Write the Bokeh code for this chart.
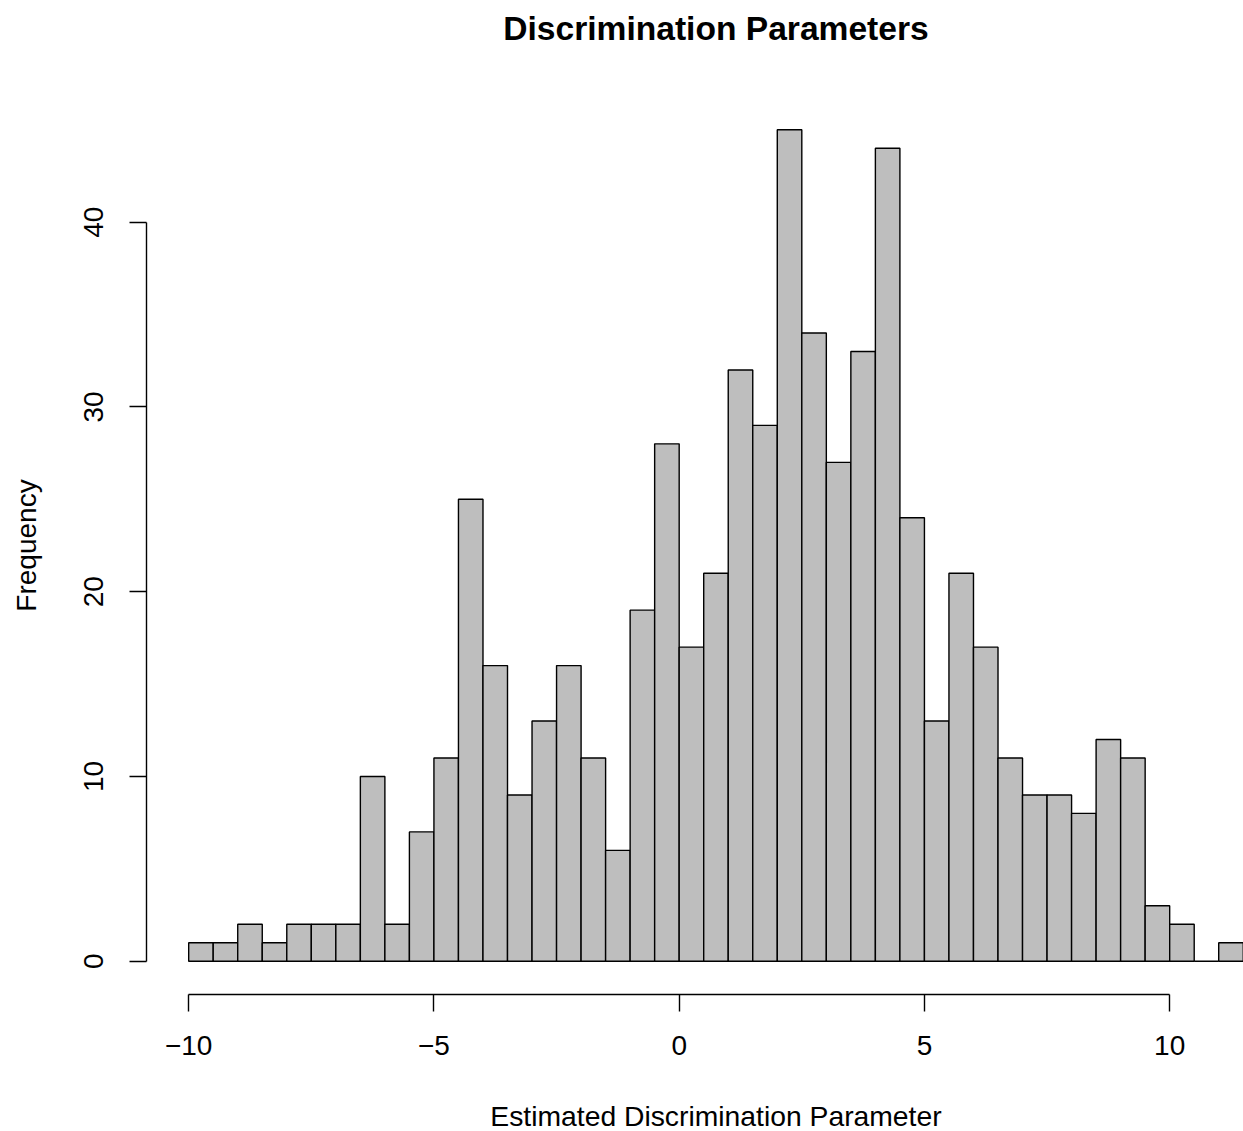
from bokeh.plotting import figure
from bokeh.models import Range1d, FixedTicker, ColumnDataSource
from bokeh.core.properties import value
from bokeh.layouts import column
from bokeh.embed import file_html
from bokeh.resources import INLINE

# Histogram bins (left edges, width 0.5) and counts
bin_left = [-10.0, -9.5, -9.0, -8.5, -8.0, -7.5, -7.0, -6.5, -6.0, -5.5,
            -5.0, -4.5, -4.0, -3.5, -3.0, -2.5, -2.0, -1.5, -1.0, -0.5,
            0.0, 0.5, 1.0, 1.5, 2.0, 2.5, 3.0, 3.5, 4.0, 4.5,
            5.0, 5.5, 6.0, 6.5, 7.0, 7.5, 8.0, 8.5, 9.0, 9.5,
            10.0, 10.5, 11.0]
bin_right = [-9.5, -9.0, -8.5, -8.0, -7.5, -7.0, -6.5, -6.0, -5.5, -5.0,
             -4.5, -4.0, -3.5, -3.0, -2.5, -2.0, -1.5, -1.0, -0.5, 0.0,
             0.5, 1.0, 1.5, 2.0, 2.5, 3.0, 3.5, 4.0, 4.5, 5.0,
             5.5, 6.0, 6.5, 7.0, 7.5, 8.0, 8.5, 9.0, 9.5, 10.0,
             10.5, 11.0, 11.5]
counts = [1, 1, 2, 1, 2, 2, 2, 10, 2, 7,
          11, 25, 16, 9, 13, 16, 11, 6, 19, 28,
          17, 21, 32, 29, 45, 34, 27, 33, 44, 24,
          13, 21, 17, 11, 9, 9, 8, 12, 11, 3,
          2, 0, 1]

x_ticks = [-10, -5, 0, 5, 10]
x_tick_labels = ["\u221210", "\u22125", "0", "5", "10"]
y_ticks = [0, 10, 20, 30, 40]

title_text = "Discrimination Parameters"
xlabel_text = "Estimated Discrimination Parameter"
ylabel_text = "Frequency"

FONT = "Liberation Sans"
W = 1243
LEFT = 146
TOP_H = 60
XLAB_H = 50
MAIN_H = 1131 - TOP_H - XLAB_H

# shared horizontal scale (R plot region extends beyond the right edge)
xr = Range1d(-10.86, 11.505)
text_x = (-10.86 + 12.36) / 2  # centre of the full R plot region

src = ColumnDataSource(dict(left=bin_left, right=bin_right, top=counts,
                            bottom=[0] * len(counts)))


def text_strip(height, txt, ypos, size, style):
    f = figure(width=W, height=height, output_backend="svg", toolbar_location=None,
               x_range=xr, y_range=Range1d(0, 1), x_axis_type=None, y_axis_type=None,
               min_border_left=LEFT, min_border_right=0, min_border_top=0,
               min_border_bottom=0)
    f.title = None
    f.outline_line_color = None
    f.grid.visible = False
    f.text(x=[text_x], y=[ypos], text=[txt], text_align="center",
           text_baseline="alphabetic", text_font=value(FONT),
           text_font_size=size, text_font_style=style, text_color="black")
    return f


p = figure(width=W, height=MAIN_H, output_backend="svg", toolbar_location=None,
           x_range=xr, y_range=Range1d(-1.8, 46.8),
           min_border_left=LEFT, min_border_right=0, min_border_top=96 - TOP_H,
           min_border_bottom=MAIN_H - (994 - TOP_H))
p.title = None
p.outline_line_color = None
p.grid.visible = False

p.quad(left="left", right="right", top="top", bottom="bottom", source=src,
       fill_color="#BEBEBE", line_color="black", line_width=1.4)

xa = p.xaxis[0]
xa.ticker = FixedTicker(ticks=x_ticks)
xa.major_label_overrides = {t: l for t, l in zip(x_ticks, x_tick_labels)}
xa.bounds = (-10, 10)
xa.minor_tick_line_color = None
xa.major_tick_in = 0
xa.major_tick_out = 17
xa.axis_line_width = 1.4
xa.major_tick_line_width = 1.4
xa.major_label_text_font = FONT
xa.major_label_text_font_size = "28px"
xa.major_label_text_color = "black"
xa.major_label_standoff = 24

ya = p.yaxis[0]
ya.ticker = FixedTicker(ticks=y_ticks)
ya.bounds = (0, 40)
ya.minor_tick_line_color = None
ya.major_tick_in = 0
ya.major_tick_out = 17
ya.axis_line_width = 1.4
ya.major_tick_line_width = 1.4
ya.major_label_text_font = FONT
ya.major_label_text_font_size = "28px"
ya.major_label_text_color = "black"
ya.major_label_orientation = "parallel"
ya.major_label_standoff = 26
ya.axis_label = ylabel_text
ya.axis_label_text_font = FONT
ya.axis_label_text_font_size = "28px"
ya.axis_label_text_font_style = "normal"
ya.axis_label_text_color = "black"
ya.axis_label_standoff = 40

p_title = text_strip(TOP_H, title_text, (TOP_H - 28) / TOP_H, "33.6px", "bold")
p_xlab = text_strip(XLAB_H, xlabel_text, (XLAB_H - (1115 - (1131 - XLAB_H))) / XLAB_H,
                    "28.3px", "normal")

layout = column(p_title, p, p_xlab, spacing=0)
open("out.html", "w").write(file_html(layout, INLINE))
